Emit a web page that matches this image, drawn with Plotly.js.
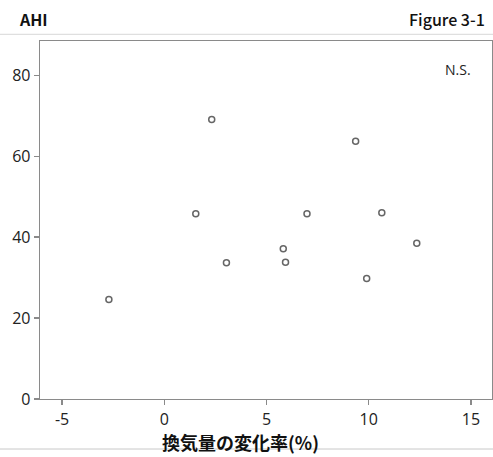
<!DOCTYPE html>
<html>
<head>
<meta charset="utf-8">
<script src="https://cdn.plot.ly/plotly-3.0.1.min.js"></script>
<style>html,body{margin:0;padding:0;background:#fff;}#chart{width:493px;height:457px;}</style>
</head>
<body>
<div id="chart"></div>
<script>
const xValues = [-2.71, 2.32, 1.54, 3.04, 9.36, 6.98, 10.64, 12.35, 5.82, 5.93, 9.90];
const yValues = [24.6, 69.1, 45.8, 33.7, 63.7, 45.8, 46.0, 38.5, 37.1, 33.8, 29.8];
const xTicks = [-5, 0, 5, 10, 15];
const yTicks = [0, 20, 40, 60, 80];
const headerLeft = "AHI";
const headerRight = "Figure 3-1";
const xTitle = "換気量の変化率(%)";
const note = "N.S.";

const W = 493, H = 457;
const L = 40, R = 1, T = 41, B = 58;
const pw = W - L - R, ph = H - T - B;
const px = v => (v - L) / pw;
const py = v => (H - B - v) / ph;

const cjk = '"Noto Sans CJK JP", "Noto Sans", sans-serif';
const tickFont = {family: '"Open Sans", "Noto Sans", sans-serif', size: 16, color: '#222'};

Plotly.newPlot('chart', [{
  x: xValues, y: yValues, type: 'scatter', mode: 'markers',
  marker: {symbol: 'circle-open', size: 6, color: '#666', line: {width: 1.5, color: '#666'}},
  hoverinfo: 'none'
}], {
  width: W, height: H,
  margin: {l: L, r: R, t: T, b: B, pad: 0},
  paper_bgcolor: '#fff', plot_bgcolor: '#fff',
  showlegend: false,
  xaxis: {range: [-6.08, 16.03], tickvals: xTicks, ticktext: xTicks.map(String),
    showgrid: false, zeroline: false, showline: true, linecolor: '#8a8a8a', linewidth: 1.3, mirror: true,
    ticks: 'outside', ticklen: 5, tickcolor: '#8a8a8a', tickwidth: 1.3, tickfont: tickFont, fixedrange: true},
  yaxis: {range: [0, 88.47], tickvals: yTicks, ticktext: yTicks.map(String),
    showgrid: false, zeroline: false, showline: true, linecolor: '#8a8a8a', linewidth: 1.3, mirror: true,
    ticks: 'outside', ticklen: 5, tickcolor: '#8a8a8a', tickwidth: 1.3, tickfont: tickFont, fixedrange: true},
  shapes: [
    {type: 'line', xref: 'paper', yref: 'paper', x0: px(0), x1: px(W), y0: py(34.3), y1: py(34.3), line: {color: '#d8d8d8', width: 1}},
    {type: 'line', xref: 'paper', yref: 'paper', x0: px(0), x1: px(W), y0: py(449), y1: py(449), line: {color: '#c8c8c8', width: 1}, layer: 'below'}
  ],
  annotations: [
    {text: headerLeft, xref: 'paper', yref: 'paper', x: px(17), y: py(19.5), xanchor: 'left', yanchor: 'middle', showarrow: false,
     font: {family: cjk, size: 16, color: '#111', weight: 700}},
    {text: headerRight, xref: 'paper', yref: 'paper', x: px(487), y: py(19.5), xanchor: 'right', yanchor: 'middle', showarrow: false,
     font: {family: cjk, size: 16, color: '#111', weight: 500}},
    {text: note, xref: 'paper', yref: 'paper', x: px(458), y: py(69), xanchor: 'center', yanchor: 'middle', showarrow: false,
     font: {family: '"Open Sans", "Noto Sans", sans-serif', size: 14, color: '#222'}},
    {text: xTitle, xref: 'paper', yref: 'paper', x: px(240), y: py(442), xanchor: 'center', yanchor: 'middle', showarrow: false,
     bgcolor: 'rgba(0,0,0,0)',
     font: {family: cjk, size: 18, color: '#111', weight: 700}}
  ]
}, {staticPlot: true, displayModeBar: false});
</script>
</body>
</html>
